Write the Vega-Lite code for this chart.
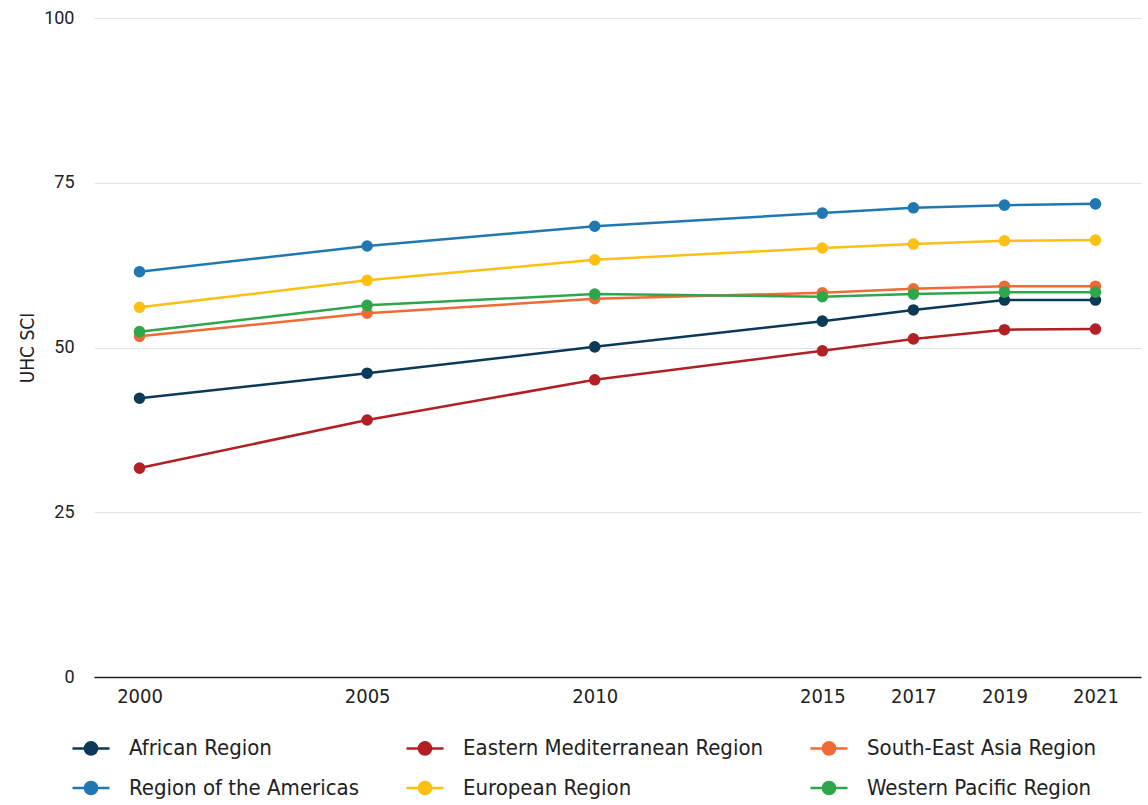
{
  "$schema": "https://vega.github.io/schema/vega-lite/v6.json",
  "width": 1047,
  "height": 659,
  "autosize": {"type": "none"},
  "padding": {"left": 94, "top": 18, "right": 7, "bottom": 128},
  "background": "white",
  "config": {
    "view": {"stroke": null},
    "font": "Roboto",
    "axis": {"labelColor": "#222", "titleColor": "#222", "labelFont": "Roboto", "labelFontSize": 18}
  },
  "data": {
    "values": [
      {"region": "African Region", "year": 2000, "sci": 42.3},
      {"region": "African Region", "year": 2005, "sci": 46.1},
      {"region": "African Region", "year": 2010, "sci": 50.1},
      {"region": "African Region", "year": 2015, "sci": 54.0},
      {"region": "African Region", "year": 2017, "sci": 55.7},
      {"region": "African Region", "year": 2019, "sci": 57.2},
      {"region": "African Region", "year": 2021, "sci": 57.2},
      {"region": "Region of the Americas", "year": 2000, "sci": 61.5},
      {"region": "Region of the Americas", "year": 2005, "sci": 65.4},
      {"region": "Region of the Americas", "year": 2010, "sci": 68.4},
      {"region": "Region of the Americas", "year": 2015, "sci": 70.4},
      {"region": "Region of the Americas", "year": 2017, "sci": 71.2},
      {"region": "Region of the Americas", "year": 2019, "sci": 71.6},
      {"region": "Region of the Americas", "year": 2021, "sci": 71.8},
      {"region": "Eastern Mediterranean Region", "year": 2000, "sci": 31.7},
      {"region": "Eastern Mediterranean Region", "year": 2005, "sci": 39.0},
      {"region": "Eastern Mediterranean Region", "year": 2010, "sci": 45.1},
      {"region": "Eastern Mediterranean Region", "year": 2015, "sci": 49.5},
      {"region": "Eastern Mediterranean Region", "year": 2017, "sci": 51.3},
      {"region": "Eastern Mediterranean Region", "year": 2019, "sci": 52.7},
      {"region": "Eastern Mediterranean Region", "year": 2021, "sci": 52.8},
      {"region": "European Region", "year": 2000, "sci": 56.1},
      {"region": "European Region", "year": 2005, "sci": 60.2},
      {"region": "European Region", "year": 2010, "sci": 63.3},
      {"region": "European Region", "year": 2015, "sci": 65.1},
      {"region": "European Region", "year": 2017, "sci": 65.7},
      {"region": "European Region", "year": 2019, "sci": 66.2},
      {"region": "European Region", "year": 2021, "sci": 66.3},
      {"region": "South-East Asia Region", "year": 2000, "sci": 51.7},
      {"region": "South-East Asia Region", "year": 2005, "sci": 55.2},
      {"region": "South-East Asia Region", "year": 2010, "sci": 57.4},
      {"region": "South-East Asia Region", "year": 2015, "sci": 58.3},
      {"region": "South-East Asia Region", "year": 2017, "sci": 58.9},
      {"region": "South-East Asia Region", "year": 2019, "sci": 59.3},
      {"region": "South-East Asia Region", "year": 2021, "sci": 59.3},
      {"region": "Western Pacific Region", "year": 2000, "sci": 52.4},
      {"region": "Western Pacific Region", "year": 2005, "sci": 56.4},
      {"region": "Western Pacific Region", "year": 2010, "sci": 58.1},
      {"region": "Western Pacific Region", "year": 2015, "sci": 57.7},
      {"region": "Western Pacific Region", "year": 2017, "sci": 58.1},
      {"region": "Western Pacific Region", "year": 2019, "sci": 58.4},
      {"region": "Western Pacific Region", "year": 2021, "sci": 58.4}
    ]
  },
  "encoding": {
    "x": {
      "field": "year", "type": "quantitative",
      "scale": {"domain": [1999, 2022], "nice": false, "zero": false},
      "axis": {
        "values": [2000, 2005, 2010, 2015, 2017, 2019, 2021],
        "format": "d", "title": null, "grid": false, "ticks": false,
        "domain": true, "domainColor": "#222", "domainWidth": 1.5,
        "labelFont": "DejaVu Sans Condensed", "labelFontSize": 20,
        "labelPadding": 9
      }
    },
    "y": {
      "field": "sci", "type": "quantitative",
      "scale": {"domain": [0, 100], "nice": false},
      "axis": {
        "values": [0, 25, 50, 75, 100], "title": "UHC SCI",
        "titleFont": "DejaVu Sans Condensed", "titleFontSize": 19, "titleFontWeight": "normal",
        "titlePadding": 6,
        "grid": true, "gridColor": "#e3e3e3", "gridWidth": 1,
        "domain": false, "ticks": false, "labelPadding": 20
      }
    },
    "color": {
      "field": "region", "type": "nominal",
      "scale": {
        "domain": ["African Region", "Region of the Americas", "Eastern Mediterranean Region", "European Region", "South-East Asia Region", "Western Pacific Region"],
        "range": ["#0b3a56", "#1f78b1", "#b21f24", "#fcc012", "#ef6b35", "#2ea64c"]
      },
      "legend": {
        "title": null, "orient": "none", "legendX": -23, "legendY": 710,
        "columns": 3, "columnPadding": 41, "rowPadding": 8,
        "labelFont": "DejaVu Sans Condensed", "labelFontSize": 22, "labelColor": "#222",
        "labelOffset": 18, "labelLimit": 500,
        "symbolType": "M-1,0H1M-0.33,0A0.33,0.33 0 1,1 0.33,0A0.33,0.33 0 1,1 -0.33,0Z",
        "symbolSize": 1369, "symbolStrokeWidth": 2.5, "symbolOpacity": 1
      }
    }
  },
  "layer": [
    {"mark": {"type": "line", "strokeWidth": 2.5}},
    {"mark": {"type": "point", "filled": true, "size": 135, "opacity": 1}}
  ]
}
